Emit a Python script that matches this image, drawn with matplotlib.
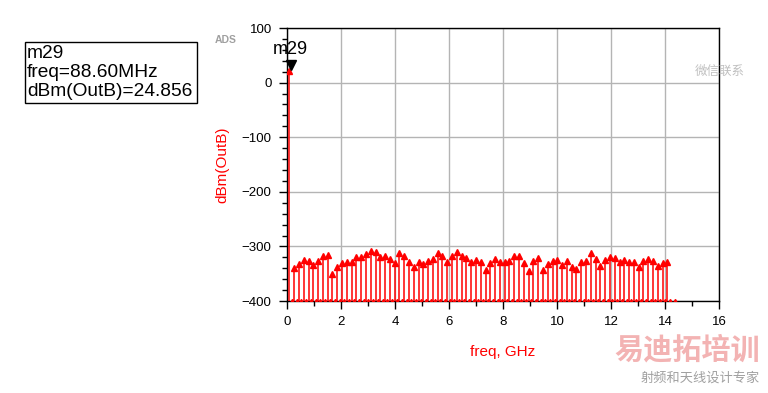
import matplotlib
matplotlib.use('Agg')
import matplotlib.pyplot as plt
import numpy as np
from matplotlib.patches import Rectangle

plt.rcParams['font.family'] = ['Liberation Sans', 'Noto Sans CJK SC', 'DejaVu Sans']

# Основна честота (GHz) и маркер m29
fundamental = 0.0886
marker_freq = 0.0886
marker_value = 24.856

# Нечетни хармоници 3, 5, ..., 159 (dBm)
odd_orders = np.arange(3, 160, 2)
odd_levels = [
    -340, -332, -325, -326, -334, -326, -318, -316, -350, -337,
    -331, -328, -328, -320, -320, -314, -309, -311, -320, -317,
    -323, -331, -312, -318, -328, -337, -329, -333, -326, -323,
    -312, -318, -329, -318, -310, -318, -321, -329, -325, -328,
    -344, -331, -323, -328, -328, -326, -318, -318, -331, -345,
    -326, -321, -343, -333, -326, -325, -334, -326, -337, -342,
    -329, -326, -312, -323, -335, -325, -320, -321, -329, -325,
    -329, -329, -338, -326, -323, -326, -336, -331, -328,
]

# Четни хармоници - на дъното на скалата
even_orders = np.arange(2, 163, 2)
even_levels = np.full(len(even_orders), -400.0)

odd_freq = odd_orders * fundamental
even_freq = even_orders * fundamental

fig = plt.figure(figsize=(7.68, 3.93), dpi=100)
ax = fig.add_axes([0.3737, 0.234, 0.5625, 0.6947])

red = '#ff0000'
ymin = -400

# Стълбове
ax.vlines(odd_freq, ymin, odd_levels, color=red, lw=1.1, zorder=3)
ax.plot(odd_freq, odd_levels, '^', color=red, ms=4.8, zorder=4)
ax.vlines(marker_freq, ymin, marker_value, color=red, lw=1.1, zorder=3)
ax.plot(marker_freq, marker_value - 4, '^', color=red, ms=4, zorder=4)
ax.plot(even_freq, even_levels, '^', color=red, ms=3, zorder=4)

# Маркер m29
ax.plot(marker_freq + 0.05, marker_value + 8, 'v', color='black', ms=7.5, zorder=5, clip_on=False)
ax.text(marker_freq - 0.6, marker_value + 36, 'm29', fontsize=13, color='black',
        va='center', zorder=6)

# Оси
ax.set_xlim(0, 16)
ax.set_ylim(-400, 100)
ax.set_xticks(np.arange(0, 17, 2))
ax.set_xticks(np.arange(0, 17, 1), minor=True)
ax.set_yticks(np.arange(-400, 101, 100))
ax.set_yticks(np.arange(-400, 101, 20), minor=True)
ax.tick_params(axis='both', which='major', direction='out', length=6, width=1,
               labelsize=9.5, pad=5)
ax.tick_params(axis='both', which='minor', direction='out', length=3.5, width=1)
ax.grid(True, which='major', color='#b4b4b4', lw=1, zorder=0)
for s in ax.spines.values():
    s.set_color('black')
    s.set_linewidth(1)

ax.set_xlabel('freq, GHz', color=red, fontsize=11, labelpad=12)
ax.set_ylabel('dBm(OutB)', color=red, fontsize=11, labelpad=9)

# Кутия на маркера
fig.patches.append(Rectangle((25 / 768, 1 - 103 / 393), 172 / 768, 61 / 393,
                             transform=fig.transFigure, fill=False,
                             edgecolor='black', lw=1))
fig.text(27 / 768, 1 - 45 / 393, 'm29\nfreq=88.60MHz\ndBm(OutB)=24.856',
         fontsize=13.8, va='top', ha='left', linespacing=1.16)

fig.text(215 / 768, 1 - 40 / 393, 'ADS', fontsize=7.5, color='#a0a0a0',
         va='center', weight='bold')

# Воден знак
fig.text(745 / 768, 1 - 75 / 393, '微信联系', fontsize=9, color='#c0c0c0', ha='right')
fig.text(760 / 768, 1 - 350 / 393, '易迪拓培训', fontsize=21, color='#f3b3b3',
         ha='right', va='center', weight='bold')
fig.text(760 / 768, 1 - 378 / 393, '射频和天线设计专家', fontsize=9.5, color='#a0a0a0',
         ha='right', va='center')

fig.savefig('out.png', dpi=100)
